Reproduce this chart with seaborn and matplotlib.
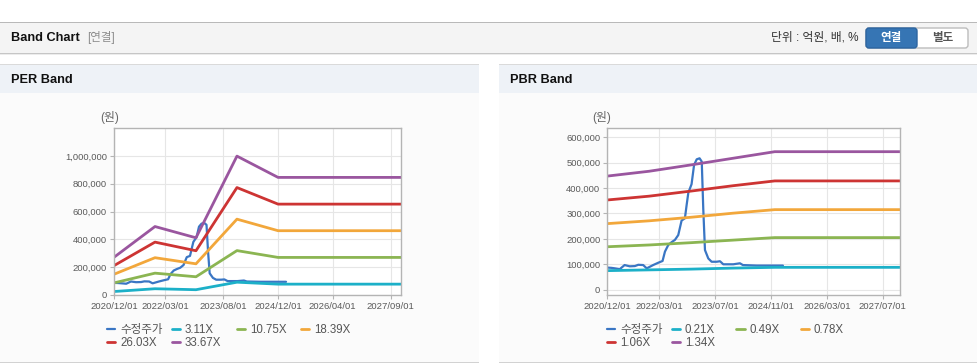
import matplotlib
matplotlib.use("Agg")
import matplotlib.pyplot as plt
import matplotlib.dates as mdates
from matplotlib.patches import Rectangle, FancyBboxPatch
from matplotlib.transforms import IdentityTransform
from matplotlib.ticker import FuncFormatter
import pandas as pd
import seaborn as sns

# ---- data (values in won) ----
price_dates = ["2020-12-01", "2021-01-05", "2021-02-06", "2021-03-20", "2021-05-01",
               "2021-06-15", "2021-07-30", "2021-08-28", "2021-10-10", "2021-11-10",
               "2022-01-05", "2022-02-18", "2022-03-28", "2022-04-18", "2022-05-17",
               "2022-06-15", "2022-07-14", "2022-08-12", "2022-09-10", "2022-10-09",
               "2022-10-24", "2022-11-08", "2022-12-06", "2022-12-28", "2023-01-20",
               "2023-02-14", "2023-03-05", "2023-03-18", "2023-04-02", "2023-05-01",
               "2023-05-30", "2023-07-13", "2023-08-11", "2023-09-09", "2023-12-05",
               "2024-02-01", "2024-02-27", "2024-06-25", "2025-02-10"]
price = [87000, 86000, 84000, 81000, 97000,
         92000, 93000, 98000, 97000, 84000,
         97000, 106000, 113000, 150000, 176000,
         187000, 196000, 215000, 272000, 281000,
         333000, 382000, 415000, 491000, 513000,
         517000, 504000, 320000, 156000, 123000,
         110000, 110000, 112000, 100000, 100000,
         104000, 97000, 95000, 95000]

band_dates = ["2020-12-01", "2021-12-01", "2022-12-01", "2023-12-01", "2024-12-01", "2027-12-01"]

per_labels = ["3.11X", "10.75X", "18.39X", "26.03X", "33.67X"]
per_311 = [25000, 45000, 38000, 92000, 78000, 78000]
per_1075 = [87000, 157000, 131000, 319000, 270000, 270000]
per_1839 = [149000, 268000, 224000, 545000, 462000, 462000]
per_2603 = [211000, 380000, 318000, 772000, 653000, 653000]
per_3367 = [271000, 492000, 411000, 998000, 845000, 845000]

pbr_labels = ["0.21X", "0.49X", "0.78X", "1.06X", "1.34X"]
pbr_021 = [75000, 78000, 81000, 85000, 88000, 88000]
pbr_049 = [169000, 176000, 185000, 195000, 205000, 205000]
pbr_078 = [260000, 271000, 285000, 301000, 315000, 315000]
pbr_106 = [353000, 368000, 388000, 409000, 428000, 428000]
pbr_134 = [447000, 466000, 491000, 517000, 543000, 543000]

per_xticks = ["2020-12-01", "2022-03-01", "2023-08-01", "2024-12-01", "2026-04-01", "2027-09-01"]
pbr_xticks = ["2020-12-01", "2022-03-01", "2023-07-01", "2024-11-01", "2026-03-01", "2027-07-01"]

colors = ["#3a76c4", "#1cb0c8", "#8bb552", "#f2a73b", "#cd3433", "#9a569f"]

# ---- figure ----
sns.set_theme(style="white")
plt.rcParams["font.family"] = ["Liberation Sans", "Noto Sans CJK KR"]

W, H = 978, 364
fig = plt.figure(figsize=(W / 100, H / 100), dpi=100)
fig.patch.set_facecolor("white")


def rect(x, y, w, h, fc, ec="none", lw=0, rounded=None):
    if rounded:
        p = FancyBboxPatch((x, H - y - h), w, h, boxstyle=f"round,pad=0,rounding_size={rounded}",
                           fc=fc, ec=ec, lw=lw, transform=IdentityTransform(), zorder=-5)
    else:
        p = Rectangle((x, H - y - h), w, h, fc=fc, ec=ec, lw=lw,
                      transform=IdentityTransform(), zorder=-5)
    fig.add_artist(p)


def text(x, y, s, **kw):
    fig.text(x / W, 1 - y / H, s, va="center", **kw)


# top header bar
rect(0, 21.5, W, 1, "#b9b9b9")
rect(0, 22.5, W, 30, "#f4f4f4")
rect(0, 52.5, W, 1, "#c6c6c6")
rect(0, 53.5, W, 1.5, "#ececec")
text(11, 38, "Band Chart", fontsize=9.2, fontweight="bold", color="#111111")
text(87, 38, "[연결]", fontsize=8.3, color="#8c8c8c")
text(859, 38, "단위 : 억원, 배, %", fontsize=8.5, color="#333333", ha="right")
rect(866, 28, 102, 20, "white", ec="#bcbcbc", lw=1, rounded=3)
rect(866, 28, 51, 20, "#3675b4", ec="#2d65a0", lw=1, rounded=3)
text(891.5, 38, "연결", fontsize=8.3, fontweight="bold", color="white", ha="center")
text(942.5, 38, "별도", fontsize=8.3, fontweight="bold", color="#555555", ha="center")

# panels
for px, title in [(0, "PER Band"), (499, "PBR Band")]:
    rect(px, 63.5, 479, 1, "#dadada")
    rect(px, 64.5, 479, 28.5, "#eef2f7")
    rect(px, 93, 479, 268.5, "#fbfbfb")
    rect(px, 361.5, 479, 1, "#d2d2d2")
    text(px + 11, 80, title, fontsize=9.2, fontweight="bold", color="#111111")


def band_chart(ax_box, labels, bands, ylim, yticks, xticks, legend_x, unit_x):
    left, top, right, bottom = ax_box
    ax = fig.add_axes([left / W, 1 - bottom / H, (right - left) / W, (bottom - top) / H])
    ax.set_facecolor("white")
    pd_price = pd.DataFrame({"date": pd.to_datetime(price_dates), "value": price})
    sns.lineplot(data=pd_price, x="date", y="value", ax=ax, color=colors[0],
                 lw=1.6, label="수정주가", estimator=None)
    for lab, vals, c in zip(labels, bands, colors[1:]):
        d = pd.DataFrame({"date": pd.to_datetime(band_dates), "value": vals})
        sns.lineplot(data=d, x="date", y="value", ax=ax, color=c, lw=2.0,
                     label=lab, estimator=None)
    handles, labs = ax.get_legend_handles_labels()
    ax.get_legend().remove()

    ax.set_xlim(pd.Timestamp("2020-12-01"), pd.Timestamp("2027-12-01"))
    ax.set_ylim(*ylim)
    ax.set_yticks(yticks)
    ax.set_xticks(pd.to_datetime(xticks))
    ax.xaxis.set_major_formatter(mdates.DateFormatter("%Y/%m/%d"))
    ax.yaxis.set_major_formatter(FuncFormatter(lambda v, _: f"{int(v):,}"))
    ax.set_xlabel("")
    ax.set_ylabel("")
    ax.grid(True, color="#e6e6e6", lw=0.8)
    for s in ax.spines.values():
        s.set_color("#b4b4b4")
        s.set_linewidth(1)
    ax.tick_params(bottom=True, left=True, direction="out", length=3, width=0.8,
                   color="#b4b4b4", labelsize=6.8, labelcolor="#5a5a5a", pad=2)

    text(unit_x, 118, "(원)", fontsize=8.5, color="#666666", ha="center")

    cols = legend_x
    rows = [330, 343.3]
    for i, (h, l) in enumerate(zip(handles, labs)):
        x = cols[i % 4]
        y = rows[i // 4]
        fig.legend([h], [l], loc="center left", bbox_to_anchor=(x / W, 1 - y / H),
                   frameon=False, borderpad=0, borderaxespad=0, handlelength=0.75,
                   handletextpad=0.4, fontsize=8.3, labelcolor="#555555")
    return ax


band_chart((114, 128, 401, 295), per_labels,
           [per_311, per_1075, per_1839, per_2603, per_3367],
           (0, 1200000), list(range(0, 1000001, 200000)), per_xticks,
           [106.7, 171.7, 236.7, 300.7], 110)

band_chart((607.3, 128.3, 900.3, 295.3), pbr_labels,
           [pbr_021, pbr_049, pbr_078, pbr_106, pbr_134],
           (-22000, 635000), list(range(0, 600001, 100000)), pbr_xticks,
           [606.7, 671.7, 736, 800.7], 602)

fig.savefig("out.png", dpi=100)
